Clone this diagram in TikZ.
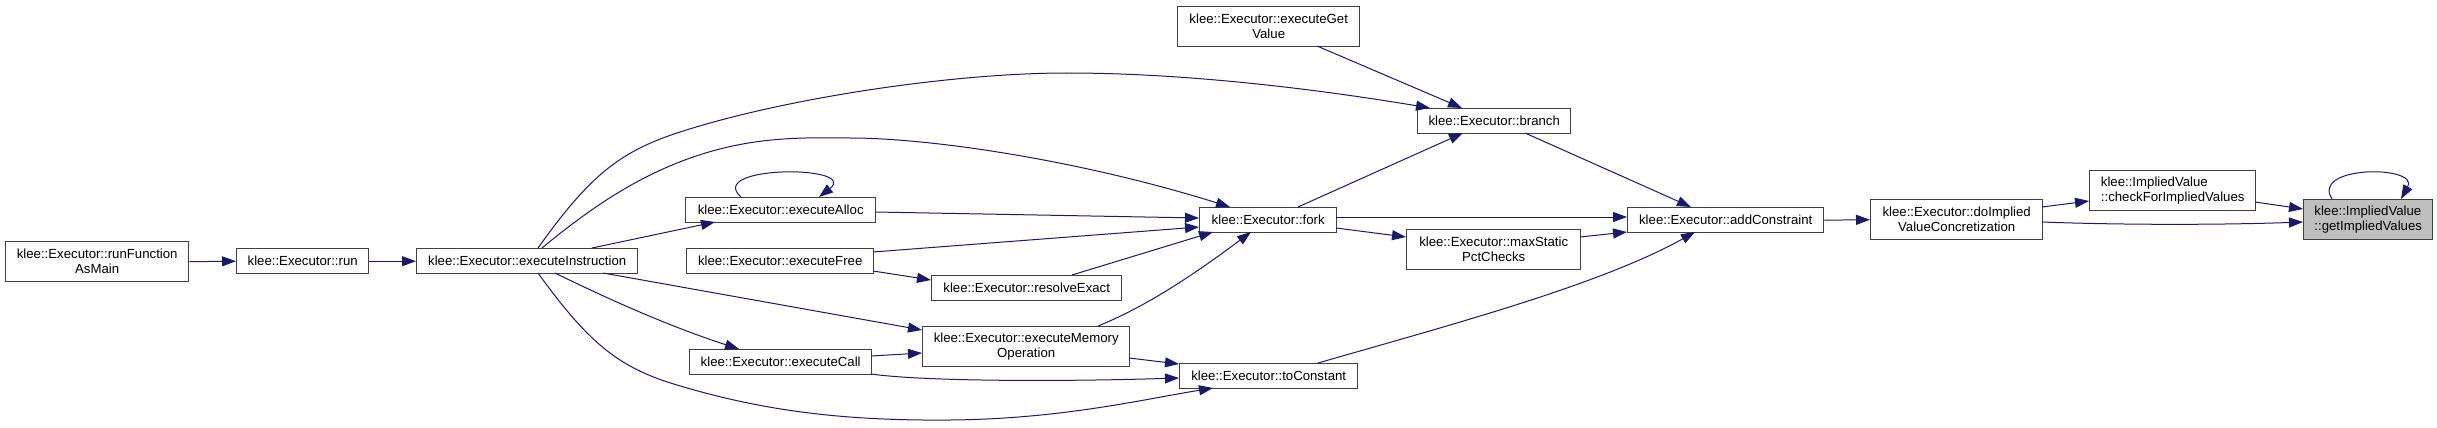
\documentclass[tikz,border=0pt]{standalone}
\usepackage{fontspec}
\setmainfont{Liberation Sans}
\usetikzlibrary{arrows.meta,calc}
\definecolor{edgeblue}{RGB}{25,25,112}
\definecolor{boxline}{RGB}{64,64,64}
\definecolor{hlfill}{RGB}{191,191,191}
\begin{document}
\begin{tikzpicture}[x=1pt,y=-1pt,
  fn/.style={draw=boxline, line width=1.4pt, fill=white, inner sep=0pt, anchor=north west,
    align=center, font=\fontsize{13.2}{15}\selectfont},
  one/.style={fn, minimum height=25pt},
  two/.style={fn, minimum height=40pt},
  cur/.style={fill=hlfill},
  call/.style={draw=edgeblue, line width=1pt, -{Triangle[length=14pt,width=10pt]}}]
\useasboundingbox (0,0) rectangle (2437,428);

% nodes
\node[two, minimum width=183pt] (rf) at (5,241) {klee::Executor::runFunction\\AsMain};
\node[one, minimum width=132pt] (run) at (236,248) {klee::Executor::run};
\node[one, minimum width=221pt] (ei) at (416,248) {klee::Executor::executeInstruction};
\node[one, minimum width=190pt] (ea) at (685,197) {klee::Executor::executeAlloc};
\node[one, minimum width=187pt] (ef) at (686,248) {klee::Executor::executeFree};
\node[one, minimum width=190pt] (re) at (931,275) {klee::Executor::resolveExact};
\node[two, minimum width=207pt] (em) at (922,326) {klee::Executor::executeMemory\\Operation};
\node[one, minimum width=182pt] (ec) at (689,349) {klee::Executor::executeCall};
\node[one, minimum width=137pt] (fk) at (1199,207) {klee::Executor::fork};
\node[one, minimum width=178pt] (tc) at (1179,363) {klee::Executor::toConstant};
\node[two, minimum width=182pt] (eg) at (1177,6) {klee::Executor::executeGet\\Value};
\node[one, minimum width=153pt] (br) at (1417,108) {klee::Executor::branch};
\node[two, minimum width=174pt] (ms) at (1406,229) {klee::Executor::maxStatic\\PctChecks};
\node[one, minimum width=196pt] (ac) at (1627,207) {klee::Executor::addConstraint};
\node[two, minimum width=172pt] (di) at (1870,199) {klee::Executor::doImplied\\ValueConcretization};
\node[two, minimum width=166pt, align=left] (cf) at (2089,170) {klee::ImpliedValue\\::checkForImpliedValues};
\node[two, minimum width=129pt, align=left, cur] (gv) at (2303,199) {klee::ImpliedValue\\::getImpliedValues};

% connectors
\draw[call] (rf.east) -- (run.west);
\draw[call] (run.east) -- (ei.west);
\draw[call] ($(ei.north west)+(122,0)$) .. controls (590,175) and (620,152) .. (677,133)
  .. controls (780,99) and (950,73) .. (1067,73)
  .. controls (1200,73) and (1340,93) .. ($(br.north west)+(13,0)$);
\draw[call] ($(ei.north west)+(126,0)$) .. controls (600,200) and (640,178) .. (677,163)
  .. controls (740,138) and (790,137) .. (850,138)
  .. controls (930,138) and (1080,160) .. ($(fk.north west)+(31,0)$);
\draw[call] ($(ei.north west)+(176,0)$) -- ($(ea.north west)+(30,25)$);
\draw[call] ($(ei.north west)+(187,25)$) -- ($(em.north west)+(0,4)$);
\draw[call] ($(ei.north west)+(139,25)$) .. controls (620,305) and (680,330) .. ($(ec.north west)+(50,0)$);
\draw[call] ($(ei.north west)+(122,25)$) .. controls (590,345) and (620,368) .. (677,385)
  .. controls (760,410) and (840,421) .. (950,420)
  .. controls (1060,419) and (1140,400) .. ($(tc.north west)+(34,25)$);
\draw[call] ($(ea.north west)+(56,0)$) .. controls (705,165) and (860,165) .. ($(ea.north west)+(134,0)$);
\draw[call] ($(ea.north west)+(190,15)$) -- ($(fk.north west)+(0,11)$);
\draw[call] ($(ef.north west)+(187,4)$) -- ($(fk.north west)+(0,20)$);
\draw[call] ($(ef.north west)+(187,23)$) -- ($(re.north west)+(0,5)$);
\draw[call] ($(re.north west)+(141,0)$) -- ($(fk.north west)+(14,25)$);
\draw[call] ($(em.north west)+(176,0)$) .. controls (1150,305) and (1200,270) .. ($(fk.north west)+(52,25)$);
\draw[call] ($(em.north west)+(207,32)$) -- ($(tc.north west)+(0,1)$);
\draw[call] ($(ec.north west)+(182,7)$) -- ($(em.north west)+(0,27)$);
\draw[call] ($(ec.north west)+(182,25)$) .. controls (920,381) and (1050,382) .. ($(tc.north west)+(0,15)$);
\draw[call] ($(eg.north west)+(140,40)$) -- ($(br.north west)+(45,0)$);
\draw[call] ($(fk.north west)+(99,0)$) -- ($(br.north west)+(46,25)$);
\draw[call] ($(fk.north west)+(137,10)$) -- ($(ac.north west)+(0,10)$);
\draw[call] ($(fk.north west)+(137,21)$) -- ($(ms.north west)+(0,8)$);
\draw[call] ($(br.north west)+(108,25)$) -- ($(ac.north west)+(64,0)$);
\draw[call] ($(ms.north west)+(174,8)$) -- ($(ac.north west)+(0,25)$);
\draw[call] ($(tc.north west)+(139,0)$) .. controls (1450,325) and (1600,285) .. ($(ac.north west)+(68,25)$);
\draw[call] (ac.east) -- (di.west);
\draw[call] ($(di.north west)+(172,8)$) -- ($(cf.north west)+(0,31)$);
\draw[call] ($(di.north west)+(172,23)$) .. controls (2120,225) and (2220,225) .. ($(gv.north west)+(0,23)$);
\draw[call] ($(cf.north west)+(166,32)$) -- ($(gv.north west)+(0,10)$);
\draw[call] ($(gv.north west)+(29,0)$) .. controls (2310,165) and (2420,165) .. ($(gv.north west)+(98,0)$);
\end{tikzpicture}
\end{document}
